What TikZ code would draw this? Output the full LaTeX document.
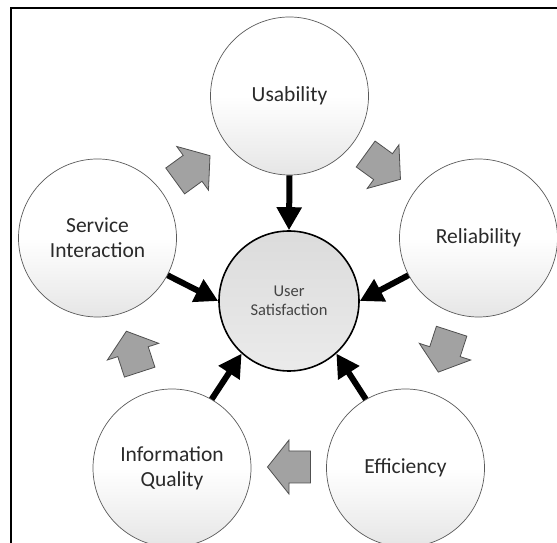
\documentclass[tikz,border=0pt]{standalone}
\usepackage{fontspec}
\setmainfont{Carlito}
\usetikzlibrary{arrows.meta,calc}
\definecolor{txt}{HTML}{2A2A2A}
\definecolor{ctxt}{HTML}{444444}
\definecolor{circ}{HTML}{5A5A5A}
\definecolor{gfill}{HTML}{A2A2A2}
\definecolor{gline}{HTML}{505050}
\tikzset{
  outer/.style={circle, draw=circ, line width=0.7pt, minimum size=158pt, inner sep=0pt,
    top color=white, bottom color=black!10, middle color=white, shading angle=0,
    text=txt, align=center, font=\fontsize{21.5}{25}\selectfont},
  inner/.style={circle, draw=black, line width=1.6pt, minimum size=140pt, inner sep=0pt,
    top color=black!14, bottom color=black!8, text=ctxt, align=center,
    font=\fontsize{16.5}{19.5}\selectfont},
  blk/.style={line width=6pt, black, -{Triangle[length=23pt,width=24pt]}},
  garrow/.pic={\draw[fill=gfill, draw=gline, line width=0.8pt, line join=miter]
    (-21.5,-16) -- (0,-16) -- (0,-27) -- (21.5,0) -- (0,27) -- (0,16) -- (-21.5,16) -- cycle;}
}
\begin{document}
\begin{tikzpicture}[x=1pt,y=1pt]
\useasboundingbox (0,0) rectangle (557,543);
\clip (0,0) rectangle (557,543);
\fill[white] (0,0) rectangle (557,543);
\draw[line width=2pt, black] (10.5,-20) -- (10.5,535) -- (600,535);
\node[inner] (us) at (289,242) {User\\Satisfaction};
\node[outer] (ua) at (289.5,447) {Usability};
\node[outer] (rl) at (478.5,305) {Reliability};
\node[outer] (ef) at (405.5,75) {Efficiency};
\node[outer] (iq) at (172,75) {Information\\Quality};
\node[outer] (si) at (97.5,305) {Service\\Interaction};
\draw[blk] (ua.south) -- (us.north);
\draw[blk] (rl.208) -- (us.east);
\draw[blk] (si.-28) -- (us.west);
\draw[blk] (iq.60) -- (us.228);
\draw[blk] (ef.120) -- (us.-48);
\pic[rotate=-36] at ($(us)+(55:164)$) {garrow};
\pic[rotate=-108] at ($(us)+(-18:164)$) {garrow};
\pic[rotate=180] at ($(us)+(-90:166)$) {garrow};
\pic[rotate=108] at ($(us)+(198:164)$) {garrow};
\pic[rotate=36] at ($(us)+(126:164)$) {garrow};
\end{tikzpicture}
\end{document}
